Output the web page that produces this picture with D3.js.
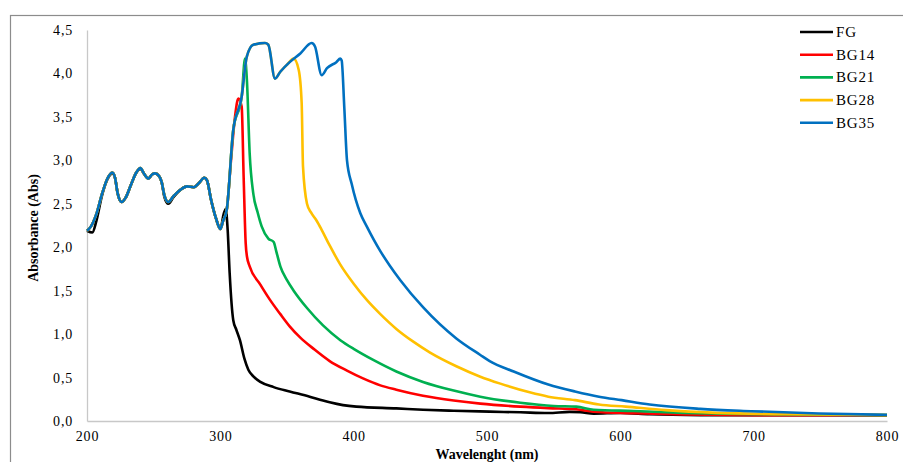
<!DOCTYPE html>
<html>
<head>
<meta charset="utf-8">
<script src="https://cdn.jsdelivr.net/npm/d3@7"></script>
<style>
  body { margin: 0; background: #fff; }
  svg text { font-family: "Liberation Serif", "Times New Roman", serif; }
</style>
</head>
<body>
<div id="chart"></div>
<script>
// shared UV part (200 - 305 nm), all samples nearly identical here
var commonNm  = [200, 203, 207, 211, 215, 219, 221, 223, 226, 229, 233, 237, 240, 243, 246, 249, 251, 254, 256, 258, 261, 265, 270, 275, 280, 284, 288, 290, 293, 297, 300, 302, 304.8];
var commonAbs = [2.19, 2.24, 2.38, 2.6, 2.78, 2.86, 2.8, 2.62, 2.52, 2.57, 2.72, 2.86, 2.91, 2.84, 2.79, 2.84, 2.85, 2.82, 2.75, 2.6, 2.52, 2.59, 2.66, 2.70, 2.69, 2.74, 2.80, 2.77, 2.55, 2.32, 2.21, 2.3, 2.43];

var fgNm  = [200, 204, 207, 211, 215, 219, 221, 223, 226, 229, 233, 237, 240, 243, 246, 249, 251, 254, 256, 258, 261, 265, 270, 275, 280, 284, 288, 290, 293, 297, 300, 302.5, 304, 305.5, 307, 309.7, 312, 314.7, 318, 321, 325, 330, 340, 352, 367, 377, 382, 392, 402, 432, 452, 475, 502, 525, 546, 562, 570, 580, 600, 622, 660, 700, 800];
var fgAbs = [2.19, 2.17, 2.3, 2.58, 2.77, 2.85, 2.8, 2.62, 2.52, 2.57, 2.72, 2.86, 2.9, 2.84, 2.79, 2.84, 2.85, 2.82, 2.75, 2.58, 2.50, 2.58, 2.66, 2.70, 2.69, 2.74, 2.80, 2.77, 2.55, 2.32, 2.21, 2.38, 2.44, 2.2, 1.7, 1.16, 1.05, 0.93, 0.72, 0.59, 0.51, 0.45, 0.39, 0.34, 0.28, 0.235, 0.215, 0.183, 0.165, 0.145, 0.13, 0.118, 0.108, 0.10, 0.092, 0.105, 0.102, 0.085, 0.092, 0.078, 0.068, 0.066, 0.066];

var bg14Nm  = [308, 311, 313.5, 316, 317.5, 319, 320, 322, 330, 337, 345, 352, 360, 370, 382, 395, 407, 420, 432, 452, 475, 495, 525, 546, 567, 580, 610, 648, 700, 800];
var bg14Abs = [3.0, 3.5, 3.71, 3.62, 2.8, 2.05, 1.89, 1.78, 1.57, 1.40, 1.23, 1.09, 0.96, 0.83, 0.69, 0.58, 0.49, 0.41, 0.36, 0.29, 0.235, 0.20, 0.165, 0.148, 0.135, 0.107, 0.09, 0.075, 0.068, 0.067];

var bg21Nm  = [309.7, 316, 318.5, 320, 322, 324.7, 328, 331, 336, 340, 342, 345, 350, 355, 365, 377, 390, 400, 415, 432, 452, 475, 495, 525, 550, 567, 580, 610, 648, 698, 800];
var bg21Abs = [3.35, 3.73, 4.17, 3.9, 3.08, 2.62, 2.4, 2.24, 2.10, 2.06, 1.95, 1.78, 1.62, 1.50, 1.30, 1.10, 0.93, 0.83, 0.70, 0.57, 0.45, 0.35, 0.28, 0.21, 0.173, 0.165, 0.13, 0.115, 0.094, 0.078, 0.068];

var bg28Nm  = [309.7, 316, 319.8, 324.7, 333.5, 336, 341, 345, 350, 355, 358.8, 361, 362, 365, 368, 372, 376, 382, 390, 400, 410, 420, 432, 445, 457, 477, 495, 510, 532, 546, 566, 584, 604, 634, 672, 723, 800];
var bg28Abs = [3.35, 3.73, 4.19, 4.33, 4.35, 4.33, 3.94, 4.02, 4.1, 4.17, 4.04, 3.66, 2.93, 2.5, 2.4, 2.31, 2.20, 2.02, 1.80, 1.58, 1.39, 1.23, 1.06, 0.91, 0.79, 0.63, 0.51, 0.43, 0.33, 0.28, 0.24, 0.19, 0.165, 0.125, 0.094, 0.078, 0.07];

var bg35Nm  = [309.7, 316, 319.8, 324.7, 333.5, 336, 341, 345, 352, 360, 368.5, 371, 376, 380, 387, 390, 391, 393, 395, 398.5, 405, 409.8, 420, 427, 435, 452, 477, 495, 502, 520, 546, 566, 584, 601, 622, 660, 698, 749, 800];
var bg35Abs = [3.35, 3.73, 4.19, 4.33, 4.35, 4.33, 3.94, 4.02, 4.13, 4.23, 4.35, 4.31, 3.98, 4.06, 4.13, 4.17, 4.15, 3.6, 3.0, 2.73, 2.39, 2.24, 1.955, 1.79, 1.62, 1.31, 0.95, 0.76, 0.69, 0.57, 0.42, 0.34, 0.28, 0.24, 0.19, 0.14, 0.113, 0.086, 0.072];

var seriesNames = ["FG", "BG14", "BG21", "BG28", "BG35"];
var seriesColors = ["#000000", "#ff0000", "#00b050", "#ffc000", "#0070c0"];
var xTicks = [200, 300, 400, 500, 600, 700, 800];
var yTicks = [0, 0.5, 1, 1.5, 2, 2.5, 3, 3.5, 4, 4.5];

function pairs(nm, ab) {
  return nm.map(function(d, i) { return {x: d, y: ab[i]}; });
}
function withCommon(nm, ab) {
  return pairs(commonNm, commonAbs).concat(pairs(nm, ab));
}

var series = [
  pairs(fgNm, fgAbs),
  withCommon(bg14Nm, bg14Abs),
  withCommon(bg21Nm, bg21Abs),
  withCommon(bg28Nm, bg28Abs),
  withCommon(bg35Nm, bg35Abs)
];

var W = 903, H = 462;
var margin = {top: 30, right: 16, bottom: 41, left: 87};
var width = W - margin.left - margin.right,
    height = H - margin.top - margin.bottom;

var svg = d3.select("#chart").append("svg")
    .attr("width", W)
    .attr("height", H);

// outer frame
svg.append("rect")
    .attr("x", 10.5).attr("y", 15.5)
    .attr("width", 920).attr("height", 480)
    .attr("fill", "none")
    .attr("stroke", "#8c8c8c")
    .attr("stroke-width", 1.2);

var g = svg.append("g")
    .attr("transform", "translate(" + margin.left + "," + margin.top + ")");

var x = d3.scaleLinear().domain([200, 800]).range([0, width]);
var y = d3.scaleLinear().domain([0, 4.5]).range([height, 0]);

var fmt = function(d) { return d3.format(".1f")(d).replace(".", ","); };

var xAxis = g.append("g")
    .attr("transform", "translate(0," + height + ")")
    .call(d3.axisBottom(x).tickValues(xTicks).tickSize(0).tickPadding(10));
xAxis.select(".domain").attr("stroke", "#c8c8c8").attr("stroke-width", 1.3);
xAxis.selectAll("text")
    .attr("font-size", 14)
    .attr("letter-spacing", 0.8)
    .attr("fill", "#000")
    .style("font-family", "Liberation Serif");

var yAxis = g.append("g")
    .call(d3.axisLeft(y).tickValues(yTicks).tickFormat(fmt).tickSize(0).tickPadding(14));
yAxis.select(".domain").attr("stroke", "#c8c8c8").attr("stroke-width", 1.3);
yAxis.selectAll("text")
    .attr("font-size", 14)
    .attr("letter-spacing", 0.8)
    .attr("fill", "#000")
    .style("font-family", "Liberation Serif");

var line = d3.line()
    .x(function(d) { return x(d.x); })
    .y(function(d) { return y(d.y); })
    .curve(d3.curveMonotoneX);

g.selectAll(".series")
    .data(series)
  .enter().append("path")
    .attr("class", "series")
    .attr("d", line)
    .attr("fill", "none")
    .attr("stroke", function(d, i) { return seriesColors[i]; })
    .attr("stroke-width", 2.6)
    .attr("stroke-linejoin", "round");

// axis titles
svg.append("text")
    .attr("x", margin.left + width / 2)
    .attr("y", 459)
    .attr("text-anchor", "middle")
    .attr("font-size", 14)
    .attr("font-weight", "bold")
    .text("Wavelenght (nm)");

svg.append("text")
    .attr("transform", "translate(38," + 228 + ") rotate(-90)")
    .attr("text-anchor", "middle")
    .attr("font-size", 14)
    .attr("font-weight", "bold")
    .text("Absorbance (Abs)");

// legend
var legend = svg.append("g").attr("transform", "translate(800,32)");
var item = legend.selectAll(".item")
    .data(seriesNames)
  .enter().append("g")
    .attr("class", "item")
    .attr("transform", function(d, i) { return "translate(0," + (i * 22.7) + ")"; });
item.append("line")
    .attr("x1", 0).attr("x2", 33)
    .attr("stroke", function(d, i) { return seriesColors[i]; })
    .attr("stroke-width", 2.6);
item.append("text")
    .attr("x", 36).attr("y", 5)
    .attr("font-size", 15)
    .attr("letter-spacing", 0.8)
    .text(function(d) { return d; });
</script>
</body>
</html>
